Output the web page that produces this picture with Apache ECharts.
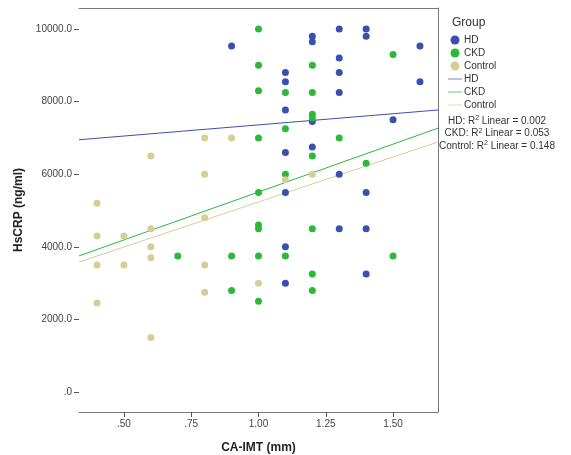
<!DOCTYPE html>
<html>
<head>
<meta charset="utf-8">
<script src="https://cdn.jsdelivr.net/npm/echarts@6/dist/echarts.min.js"></script>
<style>
  html, body { margin: 0; padding: 0; background: #fff; }
  #chart { width: 571px; height: 455px; }
</style>
</head>
<body>
<div id="chart"></div>
<script>
// scatter data [CA-IMT (mm), HsCRP (ng/ml)]
var hdPoints = [
  [0.9, 9530], [1.1, 8800], [1.1, 8550], [1.1, 7770], [1.1, 6600], [1.1, 5500], [1.1, 4000], [1.1, 3000],
  [1.2, 9800], [1.2, 9650], [1.2, 7450], [1.2, 6750], [1.3, 10000], [1.3, 9200], [1.3, 8800], [1.3, 8250],
  [1.3, 6000], [1.3, 4500], [1.4, 10000], [1.4, 9800], [1.4, 5500], [1.4, 4500], [1.4, 3250], [1.5, 7500],
  [1.6, 9530], [1.6, 8550]
]
var ckdPoints = [
  [0.7, 3750], [0.9, 3750], [0.9, 2800], [1.0, 10000], [1.0, 9000], [1.0, 8300], [1.0, 7000], [1.0, 5500],
  [1.0, 4600], [1.0, 4500], [1.0, 3750], [1.0, 2500], [1.1, 8250], [1.1, 7250], [1.1, 6000], [1.1, 3750],
  [1.2, 9000], [1.2, 8250], [1.2, 7650], [1.2, 7550], [1.2, 6500], [1.2, 4500], [1.2, 3250], [1.2, 2800],
  [1.3, 7000], [1.4, 6300], [1.5, 9300], [1.5, 3750]
]
var controlPoints = [
  [0.4, 5200], [0.4, 4300], [0.4, 3500], [0.4, 2450], [0.5, 4300], [0.5, 3500], [0.6, 6500], [0.6, 4500],
  [0.6, 4000], [0.6, 3700], [0.6, 1500], [0.8, 7000], [0.8, 6000], [0.8, 4800], [0.8, 3500], [0.8, 2750],
  [0.9, 7000], [1.0, 3000], [1.1, 5850], [1.2, 6000]
]
// fit lines (ends)
var hdFit = [[0.333, 6950], [1.667, 7770]]
var ckdFit = [[0.333, 3750], [1.667, 7270]]
var controlFit = [[0.333, 3580], [1.667, 6890]]

var xTicks = [0.5, 0.75, 1.0, 1.25, 1.5]
var xTickLabels = ['.50', '.75', '1.00', '1.25', '1.50']
var yTicks = [0, 2000, 4000, 6000, 8000, 10000]
var yTickLabels = ['.0', '2000.0', '4000.0', '6000.0', '8000.0', '10000.0']
var r2Notes = ['HD: R{sup|2} Linear = 0.002', 'CKD: R{sup|2} Linear = 0.053', 'Control: R{sup|2} Linear = 0.148']

var FONT = '"Liberation Sans", Arial, sans-serif'
var BLUE = '#3850b2'
var GREEN = '#2cb83a'
var TAN = '#d5cf96'
var LINE_ICON = 'path://M0,0L20,0L20,1L0,1Z'

var chart = echarts.init(document.getElementById('chart'))

function scatter(name, data, color) {
  return {
    name: name, type: 'scatter', data: data,
    symbolSize: 7,
    itemStyle: { color: color, opacity: 1 },
    z: 3
  }
}
function fit(name, data, color) {
  return {
    name: name, type: 'line', data: data,
    symbol: 'none',
    lineStyle: { color: color, width: 1 },
    itemStyle: { color: color },
    z: 2
  }
}

chart.setOption({
  animation: false,
  textStyle: { fontFamily: FONT },
  title: {
    text: 'Group', left: 447, top: 12,
    textStyle: { fontFamily: FONT, fontSize: 12, fontWeight: 'normal', color: '#333' }
  },
  legend: {
    orient: 'vertical', left: 443, top: 30,
    itemWidth: 14, itemHeight: 9, itemGap: 3,
    textStyle: { fontFamily: FONT, fontSize: 10, color: '#333', padding: [0, 0, 0, -3] },
    formatter: function (name) { return name.replace(' fit', '') },
    data: [
      { name: 'HD', icon: 'circle' },
      { name: 'CKD', icon: 'circle' },
      { name: 'Control', icon: 'circle' },
      { name: 'HD fit', icon: LINE_ICON },
      { name: 'CKD fit', icon: LINE_ICON },
      { name: 'Control fit', icon: LINE_ICON }
    ]
  },
  grid: { left: 79, right: 133, top: 8, bottom: 43, outerBoundsMode: 'none', containLabel: false },
  xAxis: [{
    type: 'value', min: 0.333, max: 1.667,
    name: 'CA-IMT (mm)', nameLocation: 'middle', nameGap: 30,
    nameTextStyle: { fontFamily: FONT, fontSize: 12, fontWeight: 'bold', color: '#222' },
    axisLine: { show: true, onZero: false, lineStyle: { color: '#777', width: 1 } },
    axisTick: { show: true, length: 5, customValues: xTicks, lineStyle: { color: '#555' } },
    axisLabel: {
      customValues: xTicks, fontSize: 10, color: '#444', margin: 7,
      formatter: function (v) { return xTickLabels[xTicks.indexOf(v)] }
    },
    splitLine: { show: false }
  }, {
    type: 'value', position: 'top', min: 0.333, max: 1.667,
    axisLine: { show: true, onZero: false, lineStyle: { color: '#777', width: 1 } },
    axisTick: { show: false }, axisLabel: { show: false }, splitLine: { show: false }
  }],
  yAxis: [{
    type: 'value', min: -550, max: 10580,
    name: 'HsCRP (ng/ml)', nameLocation: 'middle', nameGap: 53,
    nameTextStyle: { fontFamily: FONT, fontSize: 12, fontWeight: 'bold', color: '#222' },
    axisLine: { show: false, onZero: false },
    axisTick: { show: true, length: 5, customValues: yTicks, lineStyle: { color: '#555' } },
    axisLabel: {
      customValues: yTicks, fontSize: 10, color: '#444', margin: 7,
      formatter: function (v) { return yTickLabels[yTicks.indexOf(v)] }
    },
    splitLine: { show: false }
  }, {
    type: 'value', position: 'right', min: -550, max: 10580,
    axisLine: { show: true, onZero: false, lineStyle: { color: '#777', width: 1 } },
    axisTick: { show: false }, axisLabel: { show: false }, splitLine: { show: false }
  }],
  graphic: r2Notes.map(function (t, i) {
    return {
      type: 'text', x: 497, y: 115 + i * 12.5,
      style: {
        text: t, textAlign: 'center',
        font: '10px ' + FONT, fill: '#333',
        rich: { sup: { fontSize: 7, verticalAlign: 'top', padding: [0, 0, 5, 0], fill: '#333' } }
      }
    }
  }),
  series: [
    scatter('HD', hdPoints, BLUE),
    scatter('CKD', ckdPoints, GREEN),
    scatter('Control', controlPoints, TAN),
    fit('HD fit', hdFit, BLUE),
    fit('CKD fit', ckdFit, GREEN),
    fit('Control fit', controlFit, TAN)
  ]
})
</script>
</body>
</html>
